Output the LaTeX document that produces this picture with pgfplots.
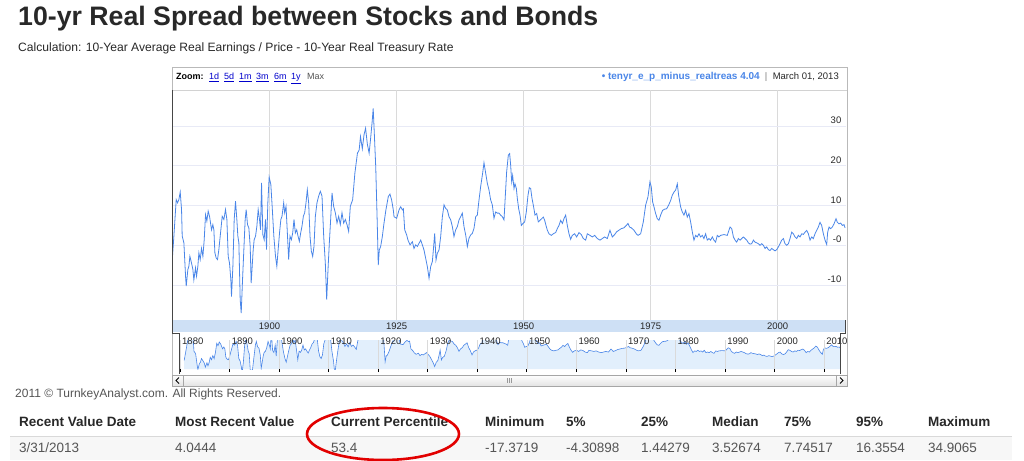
\documentclass[border=0pt]{standalone}
\usepackage{pgfplots}
\pgfplotsset{compat=1.18}
\usepackage{pgfplotstable}
\usepackage{fontspec}
\setmainfont{Liberation Sans}
\definecolor{lineblue}{RGB}{74,134,232}
\definecolor{hgrid}{RGB}{232,234,246}
\definecolor{vgrid}{RGB}{218,218,218}
\definecolor{zeroline}{RGB}{176,158,158}
\definecolor{bandblue}{RGB}{206,224,245}
\definecolor{navfill}{RGB}{226,239,252}
\definecolor{txtdark}{RGB}{40,40,40}
\definecolor{txtgray}{RGB}{85,85,85}
\definecolor{linkblue}{RGB}{0,0,204}
\definecolor{circred}{RGB}{226,0,0}
\definecolor{dk}{RGB}{70,70,70}
\newcommand{\fs}[1]{\fontsize{#1}{#1}\selectfont}

\pgfplotstableread{
year val
1880.85 -4.0
1881.18 2.3
1881.64 11.5
1881.90 10.7
1882.16 11.5
1882.43 13.4
1882.69 9.0
1882.82 2.3
1883.15 0.6
1883.48 -7.8
1883.61 -10.3
1883.93 -6.1
1884.13 -5.3
1884.33 -2.8
1884.66 -4.5
1884.92 -6.1
1885.11 -8.7
1885.44 -5.7
1885.64 -7.8
1885.90 -5.3
1886.10 -1.9
1886.36 -3.6
1886.62 -0.8
1886.89 -2.8
1887.15 1.4
1887.41 7.7
1887.67 6.1
1887.93 8.6
1888.20 7.3
1888.59 3.9
1888.85 5.2
1889.05 3.9
1889.25 -1.9
1889.51 -3.2
1889.77 -3.6
1890.03 -1.1
1890.36 3.1
1890.69 7.3
1891.02 6.5
1891.34 9.0
1891.61 6.5
1891.87 -2.8
1892.13 -4.5
1892.39 -8.7
1892.52 -12.9
1892.79 -5.3
1893.05 6.5
1893.31 11.1
1893.57 6.5
1893.77 2.3
1893.97 0.6
1894.23 -13.7
1894.43 -17.1
1894.69 -8.7
1894.95 -1.1
1895.21 6.5
1895.41 9.0
1895.67 5.2
1895.93 4.4
1896.20 -0.3
1896.39 -9.5
1896.59 -5.3
1896.79 -1.1
1896.98 1.4
1897.25 2.3
1897.51 4.8
1897.77 9.0
1898.03 6.5
1898.23 3.9
1898.43 15.7
1898.69 2.7
1898.95 1.4
1899.21 6.5
1899.41 -1.1
1899.67 10.7
1899.93 17.2
1900.26 15.3
1900.52 9.8
1900.85 2.3
1901.18 -2.8
1901.44 -5.3
1901.70 -1.1
1901.97 3.1
1902.23 6.5
1902.46 7.3
1902.79 10.7
1902.98 8.2
1903.25 9.8
1903.51 3.1
1903.77 -3.6
1904.03 2.3
1904.30 1.4
1904.56 3.1
1904.82 6.5
1905.08 3.1
1905.35 3.9
1905.61 2.3
1905.87 1.0
1906.13 3.1
1906.39 4.8
1906.66 7.3
1906.92 8.2
1907.18 10.7
1907.44 14.0
1907.70 10.7
1907.97 2.3
1908.23 -1.5
1908.49 -2.8
1908.75 -0.3
1909.02 7.3
1909.34 10.7
1909.67 12.4
1910.00 13.6
1910.33 12.4
1910.66 2.3
1910.98 -4.5
1911.25 -13.7
1911.51 -6.1
1911.77 0.6
1912.03 6.5
1912.30 13.2
1912.62 9.8
1912.95 8.2
1913.28 5.6
1913.61 7.3
1913.93 5.2
1914.26 8.2
1914.59 5.6
1914.92 6.5
1915.25 5.2
1915.57 3.5
1915.90 9.8
1916.36 11.5
1916.80 18.2
1917.30 23.2
1917.64 24.0
1917.90 27.4
1918.26 24.3
1918.59 27.8
1918.90 29.5
1919.25 25.5
1919.60 23.2
1919.90 27.0
1920.20 31.2
1920.40 34.5
1920.62 28.2
1920.90 19.8
1921.20 5.5
1921.40 -5.0
1921.60 -1.2
1921.87 -0.3
1922.20 2.2
1922.52 5.5
1922.90 8.9
1923.38 12.3
1923.70 12.9
1924.03 11.4
1924.36 8.9
1924.50 7.2
1925.02 6.8
1925.48 8.9
1925.81 9.7
1926.14 8.9
1926.34 9.2
1926.60 3.9
1926.99 2.6
1927.25 1.3
1927.65 0.1
1928.11 0.9
1928.43 -0.8
1928.76 0.1
1929.09 -0.3
1929.42 0.5
1929.75 1.3
1930.07 0.1
1930.40 -1.2
1930.73 -3.3
1931.06 -5.4
1931.39 -8.3
1931.71 -5.4
1932.04 -4.1
1932.24 -1.2
1932.50 3.0
1932.76 -3.7
1933.02 -2.0
1933.35 -1.2
1933.68 2.2
1934.01 7.2
1934.34 10.2
1934.66 9.3
1934.99 8.9
1935.32 7.2
1935.65 6.4
1935.98 4.7
1936.30 2.2
1936.63 3.9
1936.96 4.7
1937.29 6.4
1937.61 7.2
1937.94 8.1
1938.27 4.7
1938.60 2.6
1938.93 -0.3
1939.25 1.8
1939.58 2.6
1939.91 3.0
1940.24 4.3
1940.57 7.2
1940.89 7.6
1941.22 11.4
1941.55 14.8
1941.94 18.2
1942.20 20.8
1942.53 18.2
1942.86 15.6
1943.19 13.9
1943.52 11.4
1943.84 10.2
1944.17 6.8
1944.50 8.4
1944.83 8.1
1945.16 8.1
1945.48 7.6
1945.81 7.2
1946.14 6.4
1946.66 18.5
1946.99 22.7
1947.25 23.1
1947.45 20.2
1947.65 16.0
1947.84 17.6
1948.11 14.3
1948.30 15.5
1948.57 14.3
1948.76 11.8
1949.03 9.2
1949.29 7.6
1949.55 5.0
1949.88 5.5
1950.21 5.9
1950.53 8.4
1950.86 12.6
1951.12 14.5
1951.39 14.3
1951.65 11.8
1951.91 10.1
1952.24 7.6
1952.57 8.0
1952.89 5.9
1953.22 6.3
1953.55 6.7
1953.88 7.1
1954.14 6.3
1954.40 5.0
1954.67 3.8
1954.99 2.9
1955.45 2.5
1955.84 2.9
1956.30 3.2
1956.63 4.2
1956.96 5.0
1957.29 6.3
1957.62 5.5
1957.94 6.7
1958.27 7.6
1958.60 5.0
1958.93 2.9
1959.25 1.5
1959.58 2.5
1960.04 2.9
1960.44 2.1
1960.89 3.2
1961.35 2.7
1961.75 1.7
1962.21 1.3
1962.53 2.9
1963.06 2.5
1963.52 2.1
1963.98 2.5
1964.50 1.7
1965.03 1.3
1965.48 1.7
1965.94 2.1
1966.47 1.7
1966.99 3.8
1967.45 2.1
1967.91 2.7
1968.30 3.4
1968.76 3.8
1969.22 4.2
1969.75 4.4
1970.21 5.0
1970.53 5.5
1970.86 4.6
1971.19 4.4
1971.71 3.8
1972.17 2.9
1972.50 2.5
1973.03 2.9
1973.55 5.9
1974.01 10.1
1974.47 12.2
1974.86 16.0
1975.12 14.7
1975.39 10.9
1975.65 9.7
1975.98 8.0
1976.30 6.7
1976.63 6.3
1976.96 7.6
1977.35 8.8
1977.75 9.1
1978.14 9.2
1978.53 10.1
1978.93 11.3
1979.25 12.6
1979.58 13.4
1979.91 13.9
1980.24 15.5
1980.50 12.6
1980.89 9.7
1981.22 8.4
1981.55 7.6
1981.88 8.8
1982.20 7.1
1982.53 8.0
1982.86 5.9
1983.19 3.4
1983.52 1.3
1983.85 2.5
1984.17 2.1
1984.50 2.9
1984.83 2.1
1985.16 2.5
1985.48 1.7
1985.81 2.9
1986.14 1.3
1986.47 1.7
1986.80 1.3
1987.13 2.1
1987.45 1.3
1987.78 0.8
1988.11 2.5
1988.43 2.1
1988.76 2.5
1989.42 2.7
1990.07 2.5
1990.62 4.6
1990.95 4.2
1991.28 2.1
1991.60 1.3
1991.93 0.8
1992.26 1.7
1992.59 1.3
1992.92 1.7
1993.24 2.1
1993.57 1.7
1993.90 1.3
1994.23 0.6
1994.55 0.3
1994.88 0.4
1995.21 1.3
1995.54 0.8
1995.87 0.6
1996.19 0.4
1996.52 0.0
1996.85 0.4
1997.18 0.0
1997.51 -0.8
1997.83 -0.4
1998.16 -1.1
1998.49 -1.3
1998.82 -0.8
1999.14 -1.1
1999.47 -1.4
1999.80 -1.1
2000.13 -0.4
2000.46 0.4
2000.78 1.3
2001.11 1.7
2001.44 0.4
2001.77 0.0
2002.10 0.4
2002.42 1.7
2002.75 3.3
2003.08 2.9
2003.41 2.1
2003.73 1.7
2004.06 2.5
2004.39 2.1
2004.72 2.9
2005.05 2.75
2005.37 3.3
2005.70 3.75
2006.03 2.9
2006.36 1.3
2006.69 2.1
2007.01 1.7
2007.34 2.9
2007.67 3.75
2008.00 4.6
2008.32 5.8
2008.65 5.0
2008.98 2.9
2009.31 1.3
2009.64 0.2
2009.83 3.3
2010.10 4.6
2010.42 4.2
2010.75 4.6
2011.08 5.4
2011.47 6.7
2011.73 5.8
2012.06 5.4
2012.39 5.6
2012.72 5.0
2013.05 5.2
2013.25 4.4
}\spread

\begin{document}
\begin{tikzpicture}
\begin{scope}[x=1pt,y=-1pt]
\fill[white] (0,0) rectangle (1024,460);
% titles
\node[anchor=base west, inner sep=0, text=txtdark] at (18,26) {\fs{26.7}\bfseries 10-yr Real Spread between Stocks and Bonds};
\node[anchor=base west, inner sep=0, text=txtdark] at (18,52) {\fs{12.1}Calculation: 10-Year Average Real Earnings / Price - 10-Year Real Treasury Rate};
% widget frame
\draw[gray!55] (172,67) rectangle (847,386);
\draw[gray!35] (172,90) -- (847,90);
% x band
\fill[bandblue] (173,320) rectangle (846,332);
% header
\node[anchor=base west, inner sep=0, text=black] at (176,79.5) {\fs{9}\bfseries Zoom:};
\foreach \lx/\lt in {209/1d,224/5d,239/1m,256/3m,274/6m,291/1y}{
  \node[anchor=base west, inner sep=0, text=linkblue] at (\lx,79.5) {\fs{9}\underline{\lt}};
}
\node[anchor=base west, inner sep=0, text=txtgray] at (307,79.5) {\fs{9}Max};
\node[anchor=base east, inner sep=0, text=lineblue] at (760,79.5) {\fs{10}\bfseries • tenyr\_e\_p\_minus\_realtreas 4.04};
\node[anchor=base, inner sep=0, text=gray] at (766,79.5) {\fs{9.5}|};
\node[anchor=base east, inner sep=0, text=txtdark] at (839,79.5) {\fs{9.5}March 01, 2013};
\end{scope}

% main chart
\begin{axis}[
  at={(172.5pt,-90pt)}, anchor=north west,
  scale only axis, width=673pt, height=230pt,
  xmin=1880.91, xmax=2013.34, ymin=-18.82, ymax=39.12,
  axis line style={draw=none},
  major tick length=0pt,
  xtick={1900,1925,1950,1975,2000},
  xticklabels={1900,1925,1950,1975,2000},
  ytick={-10,10,20,30},
  yticklabels={-10,10,20,30},
  extra y ticks={0}, extra y tick labels={-0},
  extra y tick style={grid style={draw=zeroline, line width=0.8pt}},
  xmajorgrids, ymajorgrids,
  x grid style={draw=vgrid, line width=0.8pt},
  y grid style={draw=hgrid, line width=0.8pt},
  yticklabel pos=right,
  yticklabel style={anchor=south east, xshift=-2pt, font=\fs{9.5}, text=txtdark, inner sep=2pt},
  xticklabel style={anchor=center, yshift=-6pt, font=\fs{9.5}, text=txtdark},
]
\addplot[lineblue, line width=0.8pt] table[x=year,y=val] {\spread};
\end{axis}

% navigator (values shifted by +10 so that the fill closes at the bottom)
\begin{axis}[
  at={(180pt,-340pt)}, anchor=north west,
  scale only axis, width=660pt, height=29pt,
  xmin=1880, xmax=2013.2, ymin=0, ymax=20,
  axis on top,
  axis line style={draw=none},
  xtick={1880,1890,1900,1910,1920,1930,1940,1950,1960,1970,1980,1990,2000,2010},
  xticklabels={1880,1890,1900,1910,1920,1930,1940,1950,1960,1970,1980,1990,2000,2010},
  ytick=\empty,
  xmajorgrids, x grid style={draw=vgrid, line width=0.6pt},
  xtick pos=lower, xticklabel pos=upper,
  major tick length=3pt, tick align=outside,
  xtick style={draw=black, line width=0.8pt},
  xticklabel style={anchor=north west, font=\fs{9.5}, text=txtdark, inner sep=1pt, xshift=1pt},
]
\addplot[fill=navfill, draw=none] table[x=year, y expr=\thisrow{val}+10] {\spread} \closedcycle;
\addplot[lineblue, line width=0.6pt] table[x=year, y expr=\thisrow{val}+10] {\spread};
\end{axis}

\begin{scope}[x=1pt,y=-1pt]
% brackets
\draw[dk, line width=1pt] (172.5,90) -- (172.5,333) -- (179.5,333) -- (179.5,374);
\draw[dk, line width=1pt] (845.5,320) -- (845.5,333) -- (840,333) -- (840,374);
% scrollbar
\shade[top color=white, bottom color=gray!22] (172,375) rectangle (847,386);
\draw[gray!70] (172,375) rectangle (847,386);
\draw[gray!70] (183,375) -- (183,386);
\draw[gray!70] (836,375) -- (836,386);
\draw[black, line width=1pt] (179,377.5) -- (176,380.5) -- (179,383.5);
\draw[black, line width=1pt] (840,377.5) -- (843,380.5) -- (840,383.5);
\foreach \gx in {507,509,511}{\draw[gray!80, line width=0.5pt] (\gx,378) -- (\gx,383);}
% copyright
\node[anchor=base west, inner sep=0, text=txtgray] at (15,397) {\fs{12}2011 © TurnkeyAnalyst.com. All Rights Reserved.};
% table
\fill[gray!6] (10,436.5) rectangle (1012,460);
\draw[gray!30] (10,436) -- (1012,436);
\foreach \tx/\tt in {19/Recent Value Date,175/Most Recent Value,331/Current Percentile,485/Minimum,566/5\%,641/25\%,712/Median,784/75\%,856/95\%,928/Maximum}{
  \node[anchor=base west, inner sep=0, text=txtdark] at (\tx,426) {\fs{13.5}\bfseries \tt};
}
\foreach \tx/\tt in {19/3\slash 31\slash 2013,175/4.0444,331/53.4,485/-17.3719,566/-4.30898,641/1.44279,712/3.52674,784/7.74517,856/16.3554,928/34.9065}{
  \node[anchor=base west, inner sep=0, text=txtgray] at (\tx,452) {\fs{13.5}\tt};
}
\draw[circred, line width=2.6pt] (383,434) ellipse [x radius=76, y radius=26];
\end{scope}
\pgfresetboundingbox
\path[use as bounding box] (0pt,0pt) rectangle (1024pt,-460pt);
\end{tikzpicture}
\end{document}
